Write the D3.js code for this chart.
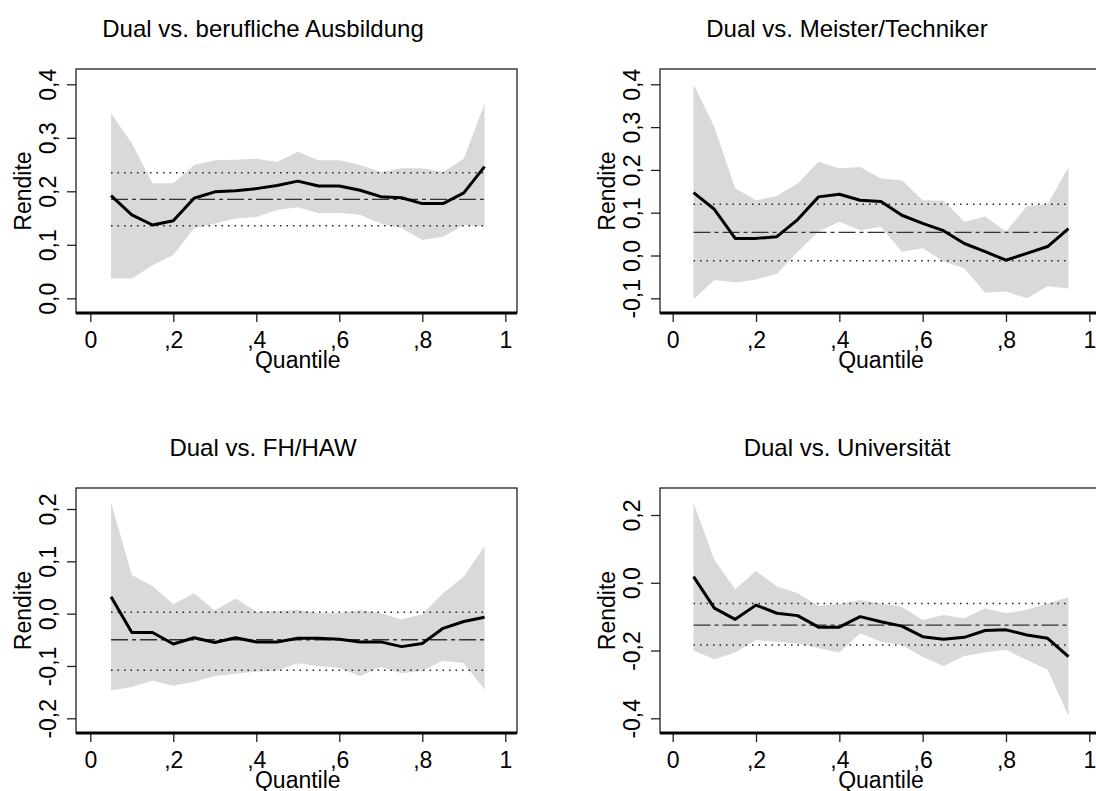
<!DOCTYPE html>
<html>
<head>
<meta charset="utf-8">
<script src="https://cdn.jsdelivr.net/npm/d3@7"></script>
<style>
  body { margin: 0; background: white; }
  svg { display: block; font-family: "Liberation Sans", Arial, sans-serif; }
</style>
</head>
<body>
<script>
// quantiles estimated (0.05 ... 0.95)
const QUANTILES = [0.05, 0.1, 0.15, 0.2, 0.25, 0.3, 0.35, 0.4, 0.45, 0.5,
  0.55, 0.6, 0.65, 0.7, 0.75, 0.8, 0.85, 0.9, 0.95];

const TITLES = [
  "Dual vs. berufliche Ausbildung",
  "Dual vs. Meister/Techniker",
  "Dual vs. FH/HAW",
  "Dual vs. Universität",
];

// quantile regression coefficients
const coefBeruf = [0.192, 0.156, 0.137, 0.145, 0.187, 0.199, 0.201, 0.205, 0.211, 0.219,
  0.21, 0.21, 0.202, 0.19, 0.188, 0.177, 0.177, 0.197, 0.246];
const upperBeruf = [0.346, 0.29, 0.215, 0.215, 0.249, 0.258, 0.259, 0.261, 0.255, 0.274,
  0.258, 0.258, 0.249, 0.236, 0.243, 0.243, 0.236, 0.261, 0.364];
const lowerBeruf = [0.037, 0.037, 0.062, 0.081, 0.131, 0.14, 0.149, 0.152, 0.165, 0.17,
  0.159, 0.16, 0.156, 0.14, 0.131, 0.109, 0.115, 0.137, 0.134];

const coefMeister = [0.147, 0.108, 0.04, 0.04, 0.044, 0.084, 0.137, 0.143, 0.129, 0.126,
  0.094, 0.075, 0.058, 0.028, 0.009, -0.011, 0.005, 0.021, 0.063];
const upperMeister = [0.4, 0.3, 0.157, 0.129, 0.139, 0.168, 0.219, 0.203, 0.207, 0.18,
  0.176, 0.129, 0.128, 0.079, 0.091, 0.056, 0.115, 0.12, 0.207];
const lowerMeister = [-0.102, -0.057, -0.063, -0.056, -0.043, 0.009, 0.056, 0.079, 0.059, 0.067,
  0.009, 0.017, -0.014, -0.03, -0.087, -0.084, -0.1, -0.072, -0.077];

const coefFH = [0.0325, -0.036, -0.036, -0.058, -0.046, -0.055, -0.046, -0.054, -0.054, -0.047,
  -0.047, -0.049, -0.054, -0.054, -0.063, -0.057, -0.028, -0.015, -0.007];
const upperFH = [0.212, 0.074, 0.053, 0.018, 0.039, 0.006, 0.029, 0.004, 0.005, 0.007,
  0.001, 0.001, 0.007, 0.001, -0.011, -0.001, 0.039, 0.071, 0.129];
const lowerFH = [-0.147, -0.14, -0.128, -0.138, -0.13, -0.119, -0.115, -0.111, -0.109, -0.095,
  -0.1, -0.104, -0.119, -0.102, -0.114, -0.109, -0.09, -0.095, -0.145];

const coefUni = [0.018, -0.075, -0.108, -0.066, -0.09, -0.097, -0.131, -0.131, -0.1, -0.115,
  -0.128, -0.159, -0.167, -0.161, -0.141, -0.139, -0.154, -0.164, -0.218];
const upperUni = [0.236, 0.067, -0.019, 0.035, -0.011, -0.031, -0.068, -0.063, -0.051, -0.061,
  -0.071, -0.11, -0.095, -0.105, -0.075, -0.09, -0.08, -0.061, -0.043];
const lowerUni = [-0.2, -0.226, -0.206, -0.169, -0.174, -0.179, -0.193, -0.206, -0.149, -0.174,
  -0.184, -0.218, -0.246, -0.216, -0.206, -0.198, -0.228, -0.257, -0.393];

// OLS estimate and its confidence bounds: [estimate, upper, lower]
const olsBeruf = [0.185, 0.2345, 0.1356];
const olsMeister = [0.054, 0.12, -0.012];
const olsFH = [-0.05, 0.0025, -0.108];
const olsUni = [-0.125, -0.061, -0.184];

// tick values and their labels
const xTicks = [0, 0.2, 0.4, 0.6, 0.8, 1];
const xTickLabels = ["0", ",2", ",4", ",6", ",8", "1"];
const yTicksBeruf = [0, 0.1, 0.2, 0.3, 0.4];
const yTicksMeister = [-0.1, 0, 0.1, 0.2, 0.3, 0.4];
const yTicksFH = [-0.2, -0.1, 0, 0.1, 0.2];
const yTicksUni = [-0.4, -0.2, 0, 0.2];

const WIDTH = 1096;
const HEIGHT = 791;
const FONT_SIZE = 23;
const BAND_COLOR = "#d9d9d9";

// panel geometry: plot box + pixel range of the axes
const PANELS = [
  { coef: coefBeruf, upper: upperBeruf, lower: lowerBeruf, ols: olsBeruf, yTicks: yTicksBeruf,
    box: { left: 76, right: 517, top: 69, bottom: 313 },
    xRange: [90.3, 505.3], yDomain: [0, 0.4], yRange: [298.3, 84.3] },
  { coef: coefMeister, upper: upperMeister, lower: lowerMeister, ols: olsMeister, yTicks: yTicksMeister,
    box: { left: 660, right: 1100, top: 69, bottom: 313 },
    xRange: [672.7, 1089.3], yDomain: [-0.1, 0.4], yRange: [298.3, 84.3] },
  { coef: coefFH, upper: upperFH, lower: lowerFH, ols: olsFH, yTicks: yTicksFH,
    box: { left: 76, right: 517, top: 488, bottom: 733 },
    xRange: [90.3, 505.3], yDomain: [-0.2, 0.2], yRange: [718.3, 509] },
  { coef: coefUni, upper: upperUni, lower: lowerUni, ols: olsUni, yTicks: yTicksUni,
    box: { left: 660, right: 1100, top: 488, bottom: 733 },
    xRange: [672.7, 1089.3], yDomain: [-0.4, 0.2], yRange: [718.3, 515] },
];

// German decimal comma: 0,1 / -0,2
const formatY = (v) => d3.format(".1f")(v).replace(".", ",").replace("−", "-");

const svg = d3.select("body").append("svg")
  .attr("width", WIDTH)
  .attr("height", HEIGHT);

function drawPanel(panel, i) {
  const g = svg.append("g");
  const box = panel.box;
  const x = d3.scaleLinear().domain([0, 1]).range(panel.xRange);
  const y = d3.scaleLinear().domain(panel.yDomain).range(panel.yRange);

  const rows = QUANTILES.map((q, j) => ({
    q: q, coef: panel.coef[j], upper: panel.upper[j], lower: panel.lower[j],
  }));

  // confidence band
  g.append("path")
    .datum(rows)
    .attr("fill", BAND_COLOR)
    .attr("d", d3.area()
      .x((d) => x(d.q))
      .y0((d) => y(d.lower))
      .y1((d) => y(d.upper)));

  // OLS confidence bounds (dotted) and estimate (long dash dot)
  const qMin = QUANTILES[0];
  const qMax = QUANTILES[QUANTILES.length - 1];
  const flat = d3.line().x((d) => x(d[0])).y((d) => y(d[1]));
  [panel.ols[1], panel.ols[2]].forEach((v) => {
    g.append("path")
      .attr("d", flat([[qMin, v], [qMax, v]]))
      .attr("stroke", "#222")
      .attr("stroke-width", 1.5)
      .attr("stroke-dasharray", "1.5,5")
      .attr("fill", "none");
  });
  g.append("path")
    .attr("d", flat([[qMin, panel.ols[0]], [qMax, panel.ols[0]]]))
    .attr("stroke", "#333")
    .attr("stroke-width", 1.4)
    .attr("stroke-dasharray", "17,4,4,4")
    .attr("fill", "none");

  // quantile coefficients
  g.append("path")
    .datum(rows)
    .attr("fill", "none")
    .attr("stroke", "black")
    .attr("stroke-width", 3)
    .attr("stroke-linejoin", "round")
    .attr("d", d3.line().x((d) => x(d.q)).y((d) => y(d.coef)));

  // plot region border
  g.append("rect")
    .attr("x", box.left)
    .attr("y", box.top)
    .attr("width", box.right - box.left)
    .attr("height", box.bottom - box.top)
    .attr("fill", "none")
    .attr("stroke", "#222")
    .attr("stroke-width", 1.3);

  // x axis
  const xAxis = g.append("g")
    .attr("transform", `translate(0, ${box.bottom})`)
    .call(d3.axisBottom(x)
      .tickValues(xTicks)
      .tickFormat((d, k) => xTickLabels[k])
      .tickSize(9)
      .tickSizeOuter(0)
      .tickPadding(10));
  xAxis.select(".domain").remove();
  xAxis.selectAll("line").attr("stroke", "#222").attr("stroke-width", 1.3);
  xAxis.selectAll("text").attr("font-size", FONT_SIZE).attr("fill", "black")
    .attr("font-family", "Liberation Sans, Arial, sans-serif");
  g.append("line")
    .attr("x1", box.left)
    .attr("x2", box.right)
    .attr("y1", box.bottom)
    .attr("y2", box.bottom)
    .attr("stroke", "black")
    .attr("stroke-width", 3);

  // y axis, labels turned vertical
  const yAxis = g.append("g")
    .attr("transform", `translate(${box.left}, 0)`)
    .call(d3.axisLeft(y)
      .tickValues(panel.yTicks)
      .tickFormat(formatY)
      .tickSize(9)
      .tickSizeOuter(0));
  yAxis.select(".domain").remove();
  yAxis.selectAll("line").attr("stroke", "#222").attr("stroke-width", 1.3);
  yAxis.selectAll("text")
    .attr("font-size", FONT_SIZE)
    .attr("fill", "black")
    .attr("font-family", "Liberation Sans, Arial, sans-serif")
    .attr("transform", "rotate(-90)")
    .attr("text-anchor", "middle")
    .attr("x", 0)
    .attr("y", -20)
    .attr("dy", 0);

  // axis titles
  g.append("text")
    .attr("transform", `translate(${box.left - 45}, ${(box.top + box.bottom) / 2}) rotate(-90)`)
    .attr("text-anchor", "middle")
    .attr("font-size", FONT_SIZE)
    .text("Rendite");
  g.append("text")
    .attr("x", (panel.xRange[0] + panel.xRange[1]) / 2)
    .attr("y", box.bottom + 55)
    .attr("text-anchor", "middle")
    .attr("font-size", FONT_SIZE)
    .text("Quantile");

  // panel title
  g.append("text")
    .attr("x", box.left + 187)
    .attr("y", box.top - 32)
    .attr("text-anchor", "middle")
    .attr("font-size", 24)
    .text(TITLES[i]);
}

PANELS.forEach(drawPanel);
</script>
</body>
</html>
